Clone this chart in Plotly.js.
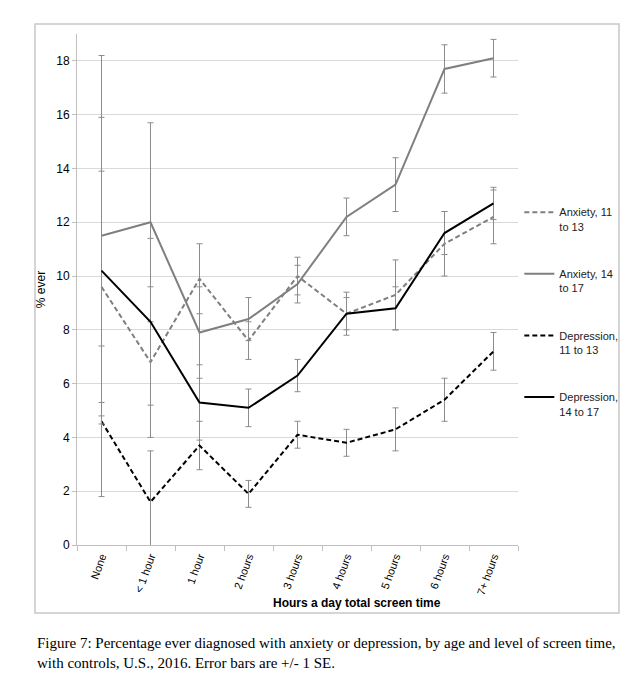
<!DOCTYPE html>
<html>
<head>
<meta charset="utf-8">
<script src="https://cdn.plot.ly/plotly-3.0.1.min.js"></script>
<style>
html,body{margin:0;padding:0;background:#fff;}
#chart{width:644px;height:680px;}
</style>
</head>
<body>
<div id="chart"></div>
<script>
const categories = ["None", "< 1 hour", "1 hour", "2 hours", "3 hours", "4 hours", "5 hours", "6 hours", "7+ hours"];

const anxiety1113 = [9.6, 6.8, 9.9, 7.6, 10.0, 8.6, 9.3, 11.2, 12.2];
const anxiety1113SE = [4.3, 2.8, 1.3, 0.7, 0.7, 0.6, 1.3, 1.2, 1.0];

const anxiety1417 = [11.5, 12.0, 7.9, 8.4, 9.7, 12.2, 13.4, 17.7, 18.1];
const anxiety1417SE = [6.7, 3.7, 1.7, 0.8, 0.7, 0.7, 1.0, 0.9, 0.7];

const depression1113 = [4.6, 1.6, 3.7, 1.9, 4.1, 3.8, 4.3, 5.4, 7.2];
const depression1113SE = [2.8, 1.9, 0.9, 0.5, 0.5, 0.5, 0.8, 0.8, 0.7];

const depression1417 = [10.2, 8.3, 5.3, 5.1, 6.3, 8.6, 8.8, 11.6, 12.7];
const depression1417SE = [5.7, 3.1, 1.4, 0.7, 0.6, 0.8, 0.8, 0.8, 0.6];

const seriesNames = ["Anxiety, 11<br>to 13", "Anxiety, 14<br>to 17", "Depression,<br>11 to 13", "Depression,<br>14 to 17"];

const FONT = "Liberation Sans, Arial, sans-serif";
const errStyle = {type: "data", visible: true, color: "#8c8c8c", thickness: 1, width: 3};

function mk(name, y, se, color, dash, group) {
  return {
    type: "scatter", mode: "lines", name: name, x: categories, y: y,
    legendgroup: group,
    line: {color: color, width: 2, dash: dash},
    error_y: Object.assign({array: se}, errStyle),
    hoverinfo: "skip"
  };
}

const traces = [
  mk(seriesNames[0], anxiety1113, anxiety1113SE, "#7f7f7f", "5px,3px", "a"),
  mk(seriesNames[1], anxiety1417, anxiety1417SE, "#7f7f7f", "solid", "b"),
  mk(seriesNames[2], depression1113, depression1113SE, "#000000", "5px,3px", "c"),
  mk(seriesNames[3], depression1417, depression1417SE, "#000000", "solid", "d")
];

const layout = {
  width: 644, height: 680,
  paper_bgcolor: "#ffffff", plot_bgcolor: "#ffffff",
  margin: {l: 77, r: 126, t: 34, b: 135},
  font: {family: FONT, size: 12, color: "#000000"},
  showlegend: true,
  legend: {
    x: 1.003, xanchor: "left", y: 0.678, yanchor: "top",
    font: {family: FONT, size: 11, color: "#222"},
    valign: "top", tracegroupgap: 30, itemwidth: 30,
    bgcolor: "rgba(0,0,0,0)"
  },
  xaxis: {
    type: "category",
    showline: true, linecolor: "#bfbfbf", linewidth: 1,
    ticks: "outside", tickson: "boundaries", ticklen: 5, tickcolor: "#bfbfbf",
    tickangle: -70, tickfont: {family: FONT, size: 11, color: "#000"},
    showgrid: false, zeroline: false,
    range: [-0.5, 8.5]
  },
  yaxis: {
    range: [0, 19], dtick: 2, tick0: 0,
    showline: true, linecolor: "#bfbfbf", linewidth: 1,
    ticks: "outside", ticklen: 4, tickcolor: "#bfbfbf",
    showgrid: true, gridcolor: "#d9d9d9", gridwidth: 1,
    zeroline: false,
    tickfont: {family: FONT, size: 12, color: "#000"},
    title: {text: "% ever", font: {family: FONT, size: 12, color: "#000"}, standoff: 8}
  },
  shapes: [{
    type: "rect", xref: "paper", yref: "paper",
    x0: (35 - 77) / 441, x1: (619 - 77) / 441,
    y0: (545 - 613) / 511, y1: (545 - 24) / 511,
    line: {color: "#c8c8c8", width: 1.5}, fillcolor: "rgba(0,0,0,0)", layer: "below"
  }],
  annotations: [
    {text: "<b>Hours a day total screen time</b>", xref: "paper", yref: "paper",
     x: (357 - 77) / 441, y: (545 - 603) / 511, xanchor: "center", yanchor: "middle",
     showarrow: false, font: {family: FONT, size: 12, color: "#000"}},
    {text: "Figure 7: Percentage ever diagnosed with anxiety or depression, by age and level of screen time,<br>with controls, U.S., 2016. Error bars are +/- 1 SE.",
     xref: "paper", yref: "paper", align: "left",
     x: (35 - 77) / 441, y: (545 - 633) / 511, xanchor: "left", yanchor: "top",
     showarrow: false, font: {family: "Liberation Serif, Times New Roman, serif", size: 15, color: "#000"}}
  ]
};

Plotly.newPlot("chart", traces, layout, {staticPlot: true, displayModeBar: false});
</script>
</body>
</html>
